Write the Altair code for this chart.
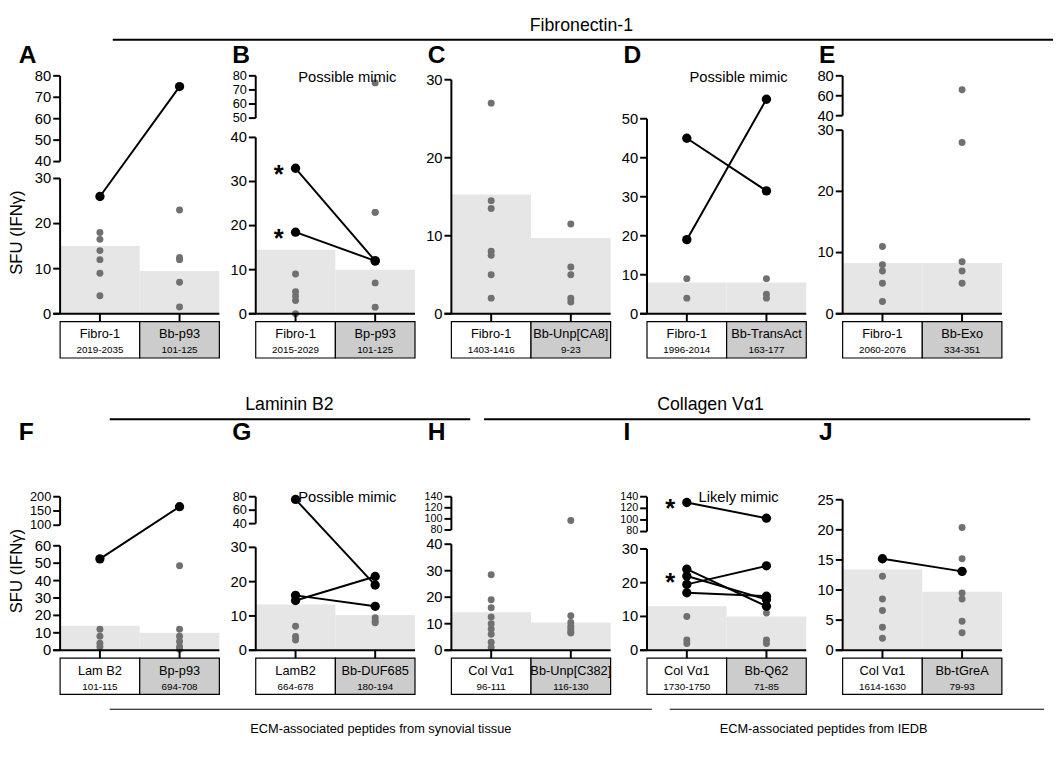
import altair as alt
import pandas as pd

FONT = "Liberation Sans"

# ---- panel data ----
letters = ["A", "B", "C", "D", "E", "F", "G", "H", "I", "J"]
notes = ["", "Possible mimic", "", "Possible mimic", "", "", "Possible mimic", "", "Likely mimic", ""]
bars = [[15, 9.5], [14.5, 10], [15.3, 9.7], [8, 8], [8.3, 8.3],
        [14, 10], [13.3, 10.3], [14.3, 10.5], [13, 10], [13.4, 9.7]]
gray_left = [[18, 16.5, 14, 12, 9, 4], [9, 5, 4, 3, 0], [27, 14.5, 13.5, 8, 7.5, 5, 2],
             [9, 4], [11, 8, 7, 5, 2], [12, 8, 4, 2], [7, 4, 3],
             [28.5, 19, 16, 12.5, 10, 8, 6, 3, 1], [10, 3, 2], [12.3, 8.5, 6.6, 3.8, 2]]
gray_right = [[23, 12.5, 12, 7, 1.5], [75, 23, 23, 7, 1.5], [11.5, 6, 5, 2, 1.5],
              [9, 5, 4], [66, 28, 8.5, 7, 5], [48.5, 12, 8, 5, 2, 0.5], [9.5, 8.5, 8],
              [97, 13, 10.5, 9, 8, 7, 6.5], [11, 3, 2], [20.4, 15.2, 9.5, 8.5, 4.8, 2.9]]
pairs = [[(26, 75)], [(33, 12), (18.5, 12)], [], [(45, 31.5), (19, 55)], [],
         [(52.5, 165)], [(76, 19), (16, 12.8), (14.5, 21.5)], [],
         [(130, 103), (24, 13), (22, 15), (19.5, 25), (17, 16)], [(15.2, 13.1)]]
stars = [[], [33, 18.5], [], [], [], [], [], [], [130, 22], []]
names_left = ["Fibro-1", "Fibro-1", "Fibro-1", "Fibro-1", "Fibro-1",
              "Lam B2", "LamB2", "Col Vα1", "Col Vα1", "Col Vα1"]
ranges_left = ["2019-2035", "2015-2029", "1403-1416", "1996-2014", "2060-2076",
               "101-115", "664-678", "96-111", "1730-1750", "1614-1630"]
names_right = ["Bb-p93", "Bp-p93", "Bb-Unp[CA8]", "Bb-TransAct", "Bb-Exo",
               "Bp-p93", "Bb-DUF685", "Bb-Unp[C382]", "Bb-Q62", "Bb-tGreA"]
ranges_right = ["101-125", "101-125", "9-23", "163-177", "334-351",
                "694-708", "180-194", "116-130", "71-85", "79-93"]
# axis: (lower max, lower ticks, upper min, upper max, upper ticks, lower frac, upper start frac)
axes = [
    (30, [0, 10, 20, 30], 40, 80, [40, 50, 60, 70, 80], 0.56, 0.63),
    (40, [0, 10, 20, 30, 40], 50, 80, [50, 60, 70, 80], 0.73, 0.81),
    (30.5, [0, 10, 20, 30], None, None, [], 1.0, None),
    (61, [0, 10, 20, 30, 40, 50], None, None, [], 1.0, None),
    (30, [0, 10, 20, 30], 40, 80, [40, 60, 80], 0.76, 0.82),
    (60, [0, 10, 20, 30, 40, 50, 60], 100, 200, [100, 150, 200], 0.66, 0.79),
    (30, [0, 10, 20, 30], 40, 80, [40, 60, 80], 0.65, 0.80),
    (40, [0, 10, 20, 30, 40], 80, 140, [80, 100, 120, 140], 0.67, 0.76),
    (30, [0, 10, 20, 30], 80, 140, [80, 100, 120, 140], 0.64, 0.75),
    (25.5, [0, 5, 10, 15, 20, 25], None, None, [], 1.0, None),
]

W = 162
ROWS = [dict(h=285, lo=-0.16, top=0.985, ldy=-4), dict(h=206, lo=-0.28, top=0.97, ldy=-48)]


def disp(v, ax, top):
    lmax, _, umin, umax, _, fl, fu0 = ax
    if umin is None:
        return v / lmax * top
    if v <= lmax:
        return v / lmax * fl
    return fu0 + (v - umin) / (umax - umin) * (top - fu0)


def panel(i):
    row = ROWS[0] if i < 5 else ROWS[1]
    ax = axes[i]
    top = row["top"]
    lmax, lt, umin, umax, ut, fl, fu0 = ax
    d = lambda v: disp(v, ax, top)
    px = row["h"] / (1 - row["lo"])  # pixels per display unit
    ux = W / 2  # pixels per x unit
    first = i in (0, 5)

    ysc = alt.Scale(domain=[row["lo"], 1.0], nice=False, zero=False)
    xsc = alt.Scale(domain=[0, 2], nice=False)

    bar_df = pd.DataFrame({"x": [0, 1], "x2": [1, 2], "y": [0, 0],
                           "y2": [d(b) for b in bars[i]]})
    bar = alt.Chart(bar_df).mark_rect(color="#e6e6e6").encode(
        x=alt.X("x:Q", scale=xsc, axis=None), x2="x2:Q",
        y=alt.Y("y:Q", scale=ysc, axis=None), y2="y2:Q")

    # y axis drawn by hand so the break can be shown
    tk_df = pd.DataFrame({"v": [str(t) for t in lt + ut], "y": [d(t) for t in lt + ut],
                          "x": [0.0] * len(lt + ut), "x2": [-7 / ux] * len(lt + ut)})
    tks = alt.Chart(tk_df).mark_rule(color="black", strokeWidth=2).encode(
        x=alt.X("x:Q", scale=xsc), x2="x2:Q", y=alt.Y("y:Q", scale=ysc))
    lo_df = tk_df.iloc[:len(lt)]
    up_df = tk_df.iloc[len(lt):]
    up_gap = (d(ut[1]) - d(ut[0])) * px if len(ut) > 1 else 99
    tlab = alt.Chart(lo_df).mark_text(fontSize=15, font=FONT, align="right",
                                      baseline="middle", dx=-9).encode(
        x=alt.X("x:Q", scale=xsc), y=alt.Y("y:Q", scale=ysc), text="v:N")
    layers_ax = [tks, tlab]
    if len(ut):
        fs = 15 if up_gap >= 15 else (13 if up_gap >= 13 else 11)
        layers_ax.append(alt.Chart(up_df).mark_text(
            fontSize=fs, font=FONT, align="right",
            baseline="middle", dx=-9).encode(
            x=alt.X("x:Q", scale=xsc), y=alt.Y("y:Q", scale=ysc), text="v:N"))
    segs = [(0, fl if umin is not None else d(lt[-1]))]
    if umin is not None:
        segs.append((fu0, top))
    seg_df = pd.DataFrame({"x": [0] * len(segs), "y": [s[0] for s in segs], "y2": [s[1] for s in segs]})
    yline = alt.Chart(seg_df).mark_rule(color="black", strokeWidth=2).encode(
        x=alt.X("x:Q", scale=xsc), y=alt.Y("y:Q", scale=ysc), y2="y2:Q")
    xline = alt.Chart(pd.DataFrame({"x": [-7 / ux], "x2": [2], "y": [0]})).mark_rule(
        color="black", strokeWidth=2).encode(
        x=alt.X("x:Q", scale=xsc), x2="x2:Q", y=alt.Y("y:Q", scale=ysc))
    xt_df = pd.DataFrame({"x": [0.5, 1.5], "y": [0, 0], "y2": [-8 / px, -8 / px]})
    xticks = alt.Chart(xt_df).mark_rule(color="black", strokeWidth=2).encode(
        x=alt.X("x:Q", scale=xsc), y=alt.Y("y:Q", scale=ysc), y2="y2:Q")
    # invisible anchor so every panel has the same left extent
    anc = alt.Chart(pd.DataFrame({"x": [-36 / ux], "y": [0]})).mark_rule(
        strokeOpacity=0).encode(x=alt.X("x:Q", scale=xsc), y=alt.Y("y:Q", scale=ysc))

    g_df = pd.DataFrame({"x": [0.5] * len(gray_left[i]) + [1.5] * len(gray_right[i]),
                         "y": [d(v) for v in gray_left[i] + gray_right[i]]})
    grays = alt.Chart(g_df).mark_circle(color="#707070", size=50, opacity=1).encode(
        x=alt.X("x:Q", scale=xsc), y=alt.Y("y:Q", scale=ysc))

    layers = [bar, grays]
    rows = []
    for k, (a, b) in enumerate(pairs[i]):
        rows += [{"x": 0.5, "y": d(a), "p": k}, {"x": 1.5, "y": d(b), "p": k}]
    if rows:
        p_df = pd.DataFrame(rows)
        lines = alt.Chart(p_df).mark_line(color="black", strokeWidth=2).encode(
            x=alt.X("x:Q", scale=xsc), y=alt.Y("y:Q", scale=ysc), detail="p:N")
        dots = alt.Chart(p_df).mark_circle(color="black", size=90, opacity=1).encode(
            x=alt.X("x:Q", scale=xsc), y=alt.Y("y:Q", scale=ysc))
        layers += [lines, dots]
    if stars[i]:
        s_df = pd.DataFrame({"x": [0.5] * len(stars[i]), "y": [d(v) for v in stars[i]]})
        layers.append(alt.Chart(s_df).mark_text(text="*", fontSize=26, fontWeight="bold",
                                                dx=-17, dy=7, font=FONT).encode(
            x=alt.X("x:Q", scale=xsc), y=alt.Y("y:Q", scale=ysc)))
    if notes[i]:
        n_df = pd.DataFrame({"x": [1.15], "y": [1.0], "t": [notes[i]]})
        layers.append(alt.Chart(n_df).mark_text(
            fontSize=15, font=FONT, baseline="top", dy=-2).encode(
            x=alt.X("x:Q", scale=xsc), y=alt.Y("y:Q", scale=ysc), text="t:N"))
    if first:
        yt_df = pd.DataFrame({"x": [-44 / ux], "y": [d(lt[-1]) * 0.6 if i == 0 else 0.5],
                              "t": ["SFU (IFNγ)"]})
        layers.append(alt.Chart(yt_df).mark_text(fontSize=17, font=FONT, angle=270).encode(
            x=alt.X("x:Q", scale=xsc), y=alt.Y("y:Q", scale=ysc), text="t:N"))

    btop = -8 / px
    bbot = btop - 37 / px
    box_df = pd.DataFrame({"x": [0, 1], "x2": [1, 2], "y": [btop] * 2, "y2": [bbot] * 2,
                           "f": ["white", "#cccccc"],
                           "name": [names_left[i], names_right[i]],
                           "rng": [ranges_left[i], ranges_right[i]],
                           "xc": [0.5, 1.5], "yn": [btop - 13 / px] * 2,
                           "yr": [btop - 29 / px] * 2})
    boxes = alt.Chart(box_df).mark_rect(stroke="black", strokeWidth=1.2).encode(
        x=alt.X("x:Q", scale=xsc), x2="x2:Q", y=alt.Y("y:Q", scale=ysc), y2="y2:Q",
        fill=alt.Fill("f:N", scale=None))
    nm = alt.Chart(box_df).mark_text(fontSize=13, font=FONT, baseline="middle").encode(
        x=alt.X("xc:Q", scale=xsc), y=alt.Y("yn:Q", scale=ysc), text="name:N")
    rg = alt.Chart(box_df).mark_text(fontSize=10, font=FONT, baseline="middle").encode(
        x=alt.X("xc:Q", scale=xsc), y=alt.Y("yr:Q", scale=ysc), text="rng:N")
    lt_df = pd.DataFrame({"x": [(-42 if first else -24) / ux], "y": [1.0], "t": [letters[i]]})
    letter = alt.Chart(lt_df).mark_text(fontSize=25, font=FONT, fontWeight="bold",
                                        align="left", baseline="bottom", dy=row["ldy"]).encode(
        x=alt.X("x:Q", scale=xsc), y=alt.Y("y:Q", scale=ysc), text="t:N")
    layers += layers_ax + [yline, xline, xticks, anc, boxes, nm, rg, letter]

    return alt.layer(*layers).properties(width=W, height=row["h"])


def header(items, h, line_y, text_y, footer=False):
    t_df = pd.DataFrame({"x": [it[0] for it in items], "t": [it[1] for it in items],
                         "x1": [it[2] for it in items], "x2": [it[3] for it in items],
                         "ly": [line_y] * len(items), "ty": [text_y] * len(items)})
    sc = alt.Scale(domain=[0, 1], nice=False)
    ysc = alt.Scale(domain=[h, 0], nice=False, zero=False)
    txt = alt.Chart(t_df).mark_text(fontSize=13 if footer else 18, font=FONT).encode(
        x=alt.X("x:Q", scale=sc, axis=None), y=alt.Y("ty:Q", scale=ysc, axis=None), text="t:N")
    ln = alt.Chart(t_df).mark_rule(color="black", strokeWidth=1.2 if footer else 2).encode(
        x=alt.X("x1:Q", scale=sc, axis=None), x2="x2:Q", y=alt.Y("ly:Q", scale=ysc, axis=None))
    return alt.layer(ln, txt).properties(width=1010, height=h)


row1 = alt.hconcat(*[panel(i) for i in range(5)], spacing=0)
row2 = alt.hconcat(*[panel(i) for i in range(5, 10)], spacing=0)
h1 = header([(0.525, "Fibronectin-1", 0.053, 1.0)], 30, 26, 12)
h2 = header([(0.231, "Laminin B2", 0.05, 0.413), (0.655, "Collagen Vα1", 0.427, 0.977)], 62, 61, 47)
foot = header([(0.323, "ECM-associated peptides from synovial tissue", 0.05, 0.596),
               (0.769, "ECM-associated peptides from IEDB", 0.614, 0.991)], 40, 14, 34, footer=True)

chart = alt.vconcat(h1, row1, h2, row2, foot, spacing=0).properties(
    padding=0).configure_view(stroke=None)

chart.save("out.html", embed_options={"renderer": "svg", "actions": False})
